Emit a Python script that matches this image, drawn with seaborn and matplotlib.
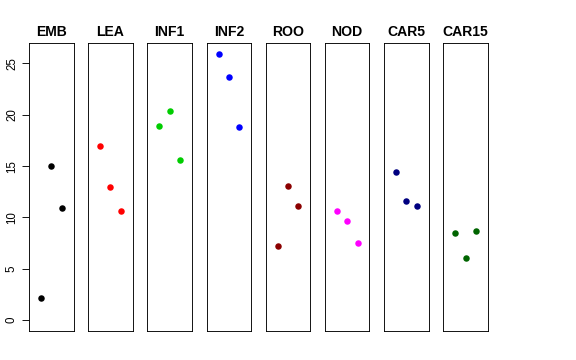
import pandas as pd
import matplotlib
matplotlib.use("Agg")
import matplotlib.pyplot as plt
import seaborn as sb

sb.set_style("white")
plt.rcParams['font.family'] = ['Liberation Sans', 'DejaVu Sans']
plt.rcParams['text.color'] = 'black'
plt.rcParams['axes.labelcolor'] = 'black'
plt.rcParams['ytick.color'] = 'black'

tissues = ['EMB', 'LEA', 'INF1', 'INF2', 'ROO', 'NOD', 'CAR5', 'CAR15']
colours = ['black', 'red', '#00CD00', 'blue', '#8B0000', 'magenta', '#000080', '#006400']
rep = [1, 2, 3]
emb = [2.2, 15.0, 10.9]
lea = [17.0, 13.0, 10.6]
inf1 = [18.9, 20.35, 15.6]
inf2 = [25.93, 23.7, 18.8]
roo = [7.2, 13.1, 11.15]
nod = [10.65, 9.65, 7.5]
car5 = [14.4, 11.6, 11.15]
car15 = [8.45, 6.1, 8.65]
values = [emb, lea, inf1, inf2, roo, nod, car5, car15]

df = pd.concat([pd.DataFrame({'tissue': t, 'rep': rep, 'expr': v})
                for t, v in zip(tissues, values)], ignore_index=True)

fig, axes = plt.subplots(1, 8, sharey=True, figsize=(8, 5), dpi=72)
fig.subplots_adjust(left=0.0503, right=0.847, top=0.880, bottom=0.081, wspace=0.328)

ymax = df.expr.max()
for ax, t, c in zip(axes, tissues, colours):
    sb.scatterplot(data=df.loc[df.tissue == t], x='rep', y='expr', color=c,
                   s=42, linewidth=0, ax=ax)
    ax.set_xlim(-0.16, 4.16)
    ax.set_ylim(-0.04 * ymax, 1.04 * ymax)
    ax.set_title(t, fontsize=14, fontweight='bold', pad=7, color='black')
    ax.set_xlabel('')
    ax.set_ylabel('')
    ax.set_xticks([])
    for s in ax.spines.values():
        s.set_color('black')
        s.set_linewidth(0.9)
    ax.tick_params(left=False, labelleft=False)

axes[0].set_yticks([0, 5, 10, 15, 20, 25])
axes[0].tick_params(left=True, labelleft=True, length=7, width=0.9, color='black',
                    labelcolor='black', labelsize=11.5, pad=4)
for lab in axes[0].get_yticklabels():
    lab.set_rotation(90)
    lab.set_va('center')

plt.savefig('out.png', dpi=72)
